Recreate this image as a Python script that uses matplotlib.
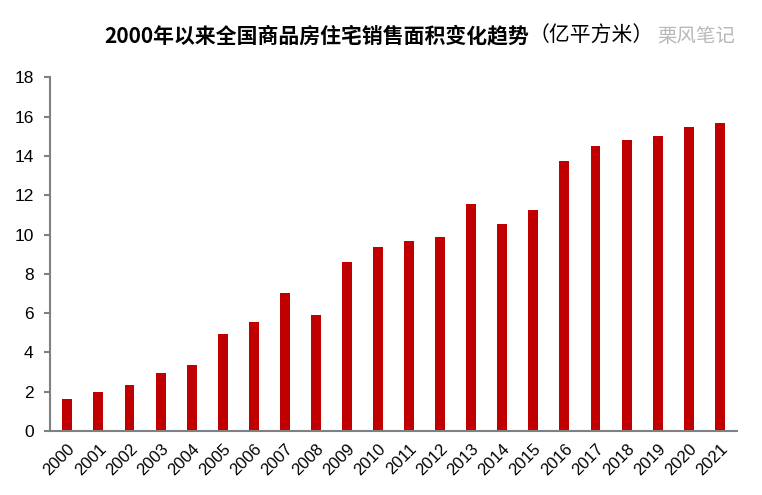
import numpy as np
from matplotlib import pyplot as plt

plt.rcParams['font.family'] = ['Liberation Sans', 'Noto Sans CJK SC', 'DejaVu Sans']

years = [str(y) for y in range(2000, 2022)]
area = [1.66, 1.99, 2.37, 2.98, 3.38, 4.96, 5.54, 7.02, 5.93, 8.62, 9.34,
        9.65, 9.85, 11.57, 10.52, 11.24, 13.75, 14.48, 14.79, 15.01, 15.49, 15.65]

title_main = '2000年以来全国商品房住宅销售面积变化趋势'
title_unit = '（亿平方米）'
watermark = '栗风笔记'

bar_color = '#C00000'
axis_color = '#808080'

fig = plt.figure(figsize=(7.62, 4.95), dpi=100)
ax = fig.add_axes([0.066, 0.129, 0.901, 0.715])

x = np.arange(len(years))
ax.bar(x, area, width=0.32, color=bar_color)

ax.set_ylim(0, 18)
ax.set_yticks(np.arange(0, 19, 2))
ax.set_xlim(-0.55, len(years) - 0.45)
ax.set_xticks(x)
ax.set_xticklabels(years, rotation=45, ha='right', rotation_mode='anchor')

for side in ('top', 'right'):
    ax.spines[side].set_visible(False)
for side in ('left', 'bottom'):
    ax.spines[side].set_color(axis_color)
    ax.spines[side].set_linewidth(1.5)
ax.tick_params(axis='y', colors=axis_color, length=4, width=1.5, labelsize=12.5,
               labelcolor='black', pad=8)
ax.tick_params(axis='x', length=0, labelsize=12, labelcolor='black', pad=7)

# Title in three pieces: bold text, plain unit, grey watermark
fig.canvas.draw()
renderer = fig.canvas.get_renderer()
ty = 1 - 36 / 495
t1 = fig.text(104 / 762, ty, title_main, fontsize=15, fontweight='bold',
              family=['Noto Sans CJK SC'], va='center', ha='left')
bb = t1.get_window_extent(renderer)
t2 = fig.text(bb.x1 / fig.bbox.width, ty, title_unit, fontsize=15,
              family=['Noto Sans CJK SC'], va='center', ha='left')
bb2 = t2.get_window_extent(renderer)
fig.text(bb2.x1 / fig.bbox.width + 0.004, ty, watermark, fontsize=14,
         family=['Noto Sans CJK SC'], color='#B8B8B8', va='center', ha='left')

fig.savefig('out.png', dpi=100)
